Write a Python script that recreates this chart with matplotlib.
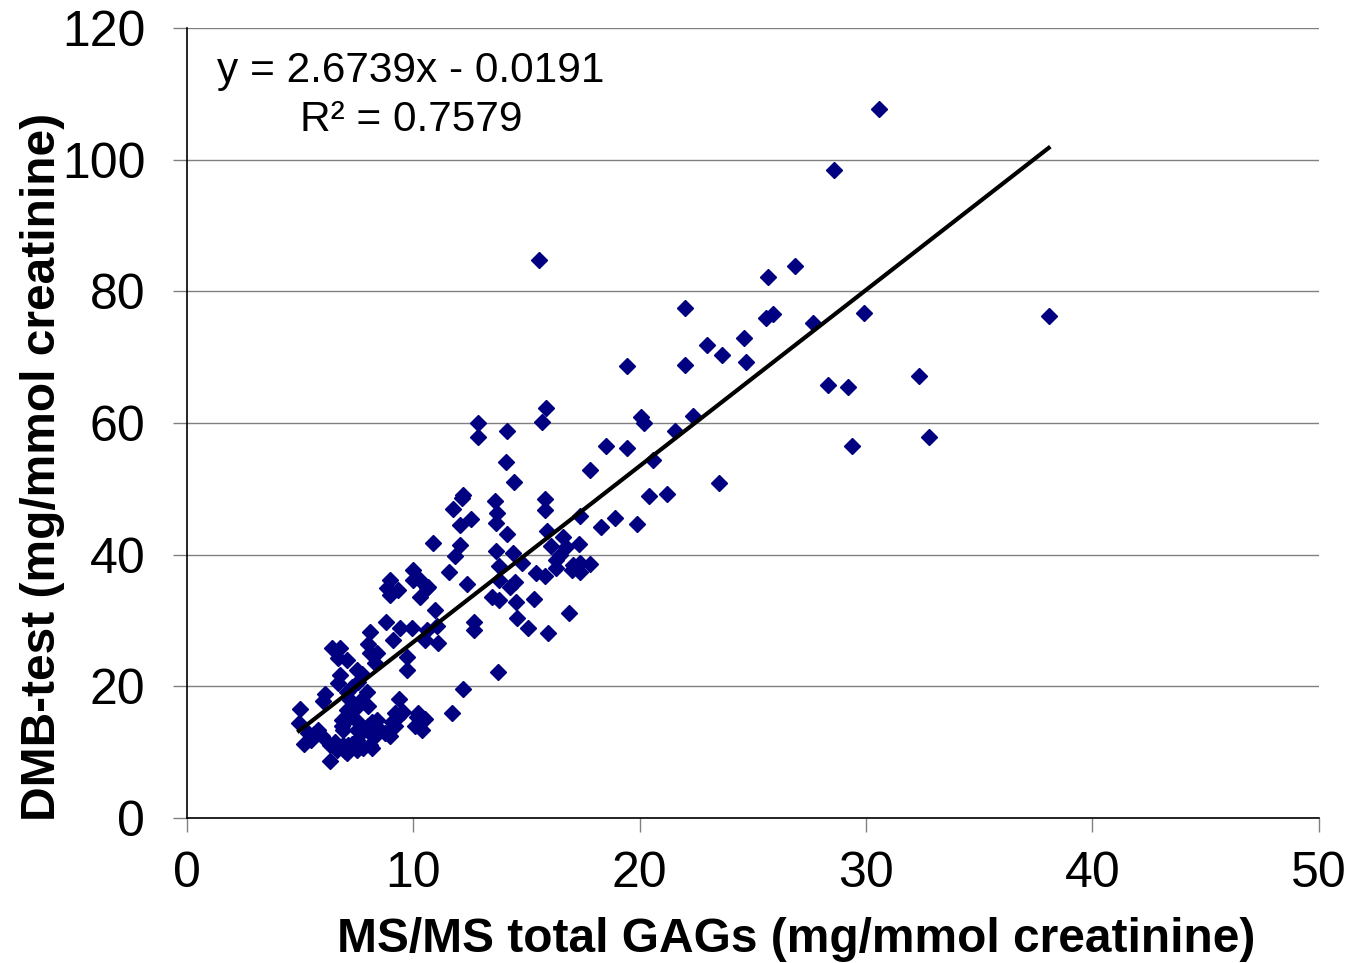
import matplotlib
matplotlib.use("Agg")
import matplotlib.pyplot as plt
import numpy as np

plt.rcParams['font.family'] = ['Liberation Sans', 'DejaVu Sans']

ms_gags = [5.0, 4.95, 5.15, 5.35, 5.6, 5.95, 5.5, 6.32, 6.1, 6.02, 6.39, 6.76, 6.68, 7.05, 6.76, 6.68,
           7.5, 7.75, 7.27, 7.57, 7.05, 7.94, 7.2, 7.64, 7.5, 8.0, 7.05, 7.2, 6.83, 6.9, 6.83, 7.57,
           7.5, 8.0, 8.38, 8.52, 8.16, 9.04, 9.19, 9.33, 9.19, 9.55, 9.38, 10.15, 10.5, 10.2, 10.07, 10.37,
           8.75, 8.97, 8.3, 8.16, 7.72, 6.32, 6.54, 6.61, 6.98, 6.83, 7.12, 7.35, 7.5, 7.79, 8.08, 7.05,
           7.5, 8.16, 6.9, 7.27, 5.8, 8.08, 8.38, 8.3, 9.7, 9.7, 8.0, 8.08, 9.11, 8.79, 9.41, 9.92,
           10.59, 10.5, 11.1, 11.03, 10.95, 8.82, 9.33, 8.97, 8.97, 10.0, 10.0, 10.59, 10.29, 10.66, 10.3, 10.88,
           11.59, 11.76, 12.06, 12.57, 12.06, 11.84, 12.35, 12.68, 12.68, 12.2, 11.69, 13.72, 12.2, 12.13, 12.87, 12.87,
           14.12, 14.09, 14.46, 15.85, 15.67, 15.55, 13.6, 13.7, 13.65, 15.8, 15.8, 17.36, 14.15, 15.9, 13.65, 14.39,
           16.1, 16.6, 16.74, 17.33, 14.78, 13.8, 16.3, 16.5, 17.06, 17.36, 17.8, 17.36, 17.0, 16.3, 15.4, 15.8,
           13.8, 14.5, 14.26, 13.46, 13.8, 14.53, 15.34, 14.56, 15.05, 15.96, 16.9, 18.3, 18.9, 19.9, 17.8, 18.5,
           19.43, 20.6, 20.05, 20.2, 21.55, 22.35, 20.4, 21.2, 23.5, 19.43, 22.0, 22.0, 22.97, 24.6, 23.63, 24.7,
           25.6, 25.87, 27.65, 25.67, 26.86, 28.58, 30.56, 29.9, 38.07, 32.33, 28.3, 29.2, 32.8, 29.37]

dmb_test = [16.5, 14.5, 11.2, 12.9, 12.7, 12.4, 11.8, 8.6, 18.9, 17.7, 25.8, 25.8, 24.3, 24.0, 21.7, 20.5,
            22.5, 21.9, 19.9, 20.7, 19.1, 19.2, 17.9, 17.7, 16.9, 17.0, 16.4, 15.4, 14.9, 13.4, 13.9, 14.6,
            13.4, 13.9, 14.9, 13.4, 14.6, 14.6, 13.9, 15.4, 15.9, 16.1, 18.0, 15.4, 15.1, 15.9, 13.9, 13.4,
            12.9, 12.4, 12.4, 12.6, 13.1, 11.1, 11.6, 10.3, 10.1, 10.8, 11.1, 10.8, 11.8, 10.6, 11.1, 9.8,
            10.3, 10.6, 11.1, 11.3, 13.4, 25.0, 25.0, 23.5, 24.5, 22.5, 26.5, 28.3, 27.0, 29.7, 28.8, 28.8,
            28.6, 27.0, 26.6, 29.1, 31.6, 34.9, 34.6, 33.9, 36.2, 36.2, 37.7, 35.0, 33.6, 35.1, 36.2, 41.7,
            37.3, 47.0, 44.5, 45.4, 41.5, 39.8, 35.6, 29.7, 28.5, 19.6, 16.0, 22.1, 49.1, 48.6, 60.0, 57.8,
            58.8, 54.1, 51.1, 62.3, 60.2, 84.8, 48.2, 46.3, 44.8, 48.5, 46.8, 45.8, 43.1, 43.6, 40.5, 40.3,
            41.3, 42.7, 41.2, 41.6, 38.8, 38.2, 39.2, 40.0, 38.4, 38.7, 38.5, 37.4, 37.7, 37.9, 37.2, 36.7,
            36.2, 35.9, 35.1, 33.6, 33.1, 32.8, 33.2, 30.3, 28.9, 28.1, 31.1, 44.2, 45.6, 44.7, 52.9, 56.5,
            56.2, 54.4, 60.9, 60.0, 58.8, 61.1, 48.9, 49.2, 50.9, 68.7, 68.8, 77.5, 71.9, 72.9, 70.3, 69.3,
            76.0, 76.6, 75.2, 82.2, 83.9, 98.4, 107.7, 76.7, 76.3, 67.2, 65.8, 65.5, 57.9, 56.5]

slope = 2.6739
intercept = -0.0191
r_squared = 0.7579

x_ticks = [0, 10, 20, 30, 40, 50]
y_ticks = [0, 20, 40, 60, 80, 100, 120]

fig = plt.figure(figsize=(13.47, 9.63), dpi=100)
ax = fig.add_axes([0.1388, 0.1506, 0.979 - 0.1388, 0.971 - 0.1506])

ax.set_xlim(0, 50)
ax.set_ylim(0, 120)
ax.set_xticks(x_ticks)
ax.set_yticks(y_ticks)
ax.yaxis.grid(True, color='#808080', linewidth=1.0)
ax.set_axisbelow(True)

ax.plot(ms_gags, dmb_test, linestyle='none', marker='D', markersize=8.5,
        color='#000080', markeredgecolor='#000080', zorder=3)

xs = np.array([min(ms_gags), max(ms_gags)])
ax.plot(xs, slope * xs + intercept, color='black', linewidth=3.0, zorder=4)

for s in ['top', 'right']:
    ax.spines[s].set_visible(False)
for s in ['left', 'bottom']:
    ax.spines[s].set_color('black')
    ax.spines[s].set_linewidth(1.2)

ax.tick_params(axis='both', direction='out', length=10, width=1.0, color='#808080',
               labelsize=36)
ax.tick_params(axis='y', pad=20)
ax.tick_params(axis='x', pad=14)

ax.set_xlabel('MS/MS total GAGs (mg/mmol creatinine)', fontsize=34.5, fontweight='bold', labelpad=14)
ax.set_ylabel('DMB-test (mg/mmol creatinine)', fontsize=34.5, fontweight='bold', labelpad=-2)
ax.xaxis.label.set_x(0.538)
ax.yaxis.label.set_y(0.444)

ax.text(9.9, 113.5, f'y = {slope}x - {abs(intercept)}', fontsize=30.5, ha='center', va='center')
ax.text(9.9, 106.0, f'R\u00b2 = {r_squared}', fontsize=30.5, ha='center', va='center')

fig.savefig('out.png', dpi=100)
